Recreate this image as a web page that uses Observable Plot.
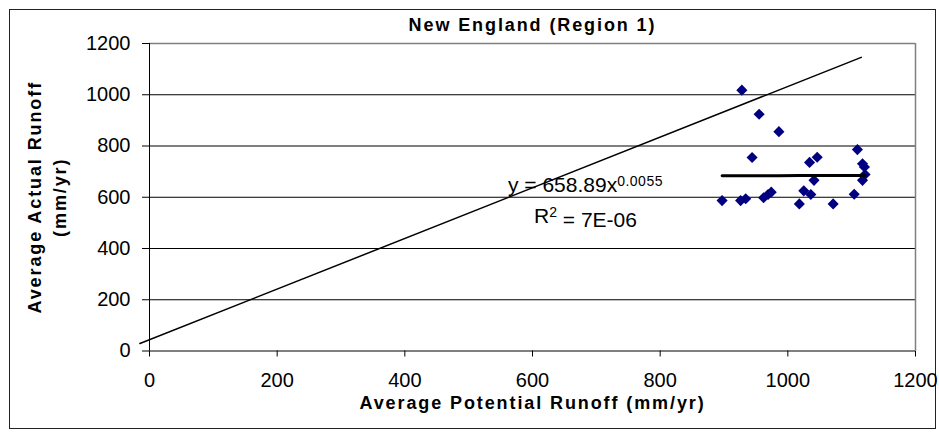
<!DOCTYPE html>
<html>
<head>
<meta charset="utf-8">
<script src="https://cdn.jsdelivr.net/npm/d3@7"></script>
<script src="https://cdn.jsdelivr.net/npm/@observablehq/plot@0.6"></script>
<style>
  html, body { margin: 0; padding: 0; background: #fff; }
  #wrap { position: relative; width: 939px; height: 432px; }
  #border { position: absolute; left: 9px; top: 9px; width: 925px; height: 418px; border: 1px solid #222; pointer-events: none; }
</style>
</head>
<body>
<div id="wrap"><div id="border"></div></div>
<script>
// ---- data ----
const title = "New England (Region 1)";
const xTitle = "Average Potential Runoff (mm/yr)";
const yTitle = "Average Actual Runoff\n(mm/yr)";
const tickValues = [0, 200, 400, 600, 800, 1000, 1200];

// observed points: potential runoff (x) vs actual runoff (y), mm/yr
const potential = [928, 955, 986, 944, 897, 926, 934, 962, 969, 974, 1018, 1025, 1036, 1041, 1034, 1046, 1071, 1104, 1109, 1117, 1120, 1121, 1117];
const actual    = [1018, 924, 856, 755, 587, 587, 594, 598, 611, 620, 574, 625, 611, 666, 736, 756, 574, 612, 786, 731, 718, 689, 666];

// reference diagonal line (two endpoints)
const diagX = [-15, 1115];
const diagY = [29, 1146];

// power trendline coefficients shown in the chart: y = a * x^b
const trendA = 658.89;
const trendB = 0.0055;
const eqText = "y = 658.89x";
const eqSup = "0.0055";
const r2Text = "R";
const r2Sup = "2";
const r2Rest = " = 7E-06";

// ---- derived tables ----
const pts = potential.map((x, i) => ({x, y: actual[i]}));
const diag = diagX.map((x, i) => ({x, y: diagY[i]}));
const xs = potential.slice().sort((a, b) => a - b);
const trend = xs.map(x => ({x, y: trendA * Math.pow(x, trendB)}));
const grid = tickValues.filter(v => v > 0 && v < 1200);

const FONT = "'Liberation Sans', Arial, Helvetica, sans-serif";

const chart = Plot.plot({
  width: 939,
  height: 432,
  marginLeft: 149,
  marginRight: 24,
  marginTop: 43,
  marginBottom: 81.5,
  style: {fontFamily: FONT, fontSize: "20px", color: "#000", background: "transparent"},
  x: {domain: [0, 1200], ticks: tickValues, tickFormat: d => String(d), tickSize: 6, tickPadding: 16, label: null},
  y: {domain: [0, 1200], ticks: tickValues, tickFormat: d => String(d), tickSize: 7, tickPadding: 12, label: null},
  marks: [
    Plot.ruleY(grid, {stroke: "#000", strokeWidth: 1}),
    Plot.ruleY([1200], {stroke: "#808080", strokeWidth: 1.5}),
    Plot.ruleX([1200], {stroke: "#808080", strokeWidth: 1.5}),
    Plot.ruleY([0], {stroke: "#000", strokeWidth: 1}),
    Plot.ruleX([0], {stroke: "#000", strokeWidth: 1}),
    Plot.line(diag, {x: "x", y: "y", stroke: "#000", strokeWidth: 1.5}),
    Plot.dot(pts, {x: "x", y: "y", symbol: "diamond2", r: 5, fill: "#000080", stroke: "none"}),
    Plot.line(trend, {x: "x", y: "y", stroke: "#000", strokeWidth: 3}),
    Plot.text([eqText + eqSup], {x: 683, y: 645, text: d => d, fontSize: 21, textAnchor: "middle", fill: "#000"}),
    Plot.text([r2Text + r2Sup + r2Rest], {x: 683, y: 524, text: d => d, fontSize: 21, textAnchor: "middle", fill: "#000"}),
    Plot.text([title], {frameAnchor: "top", dy: -18, lineAnchor: "middle", textAnchor: "middle", text: d => d, fontSize: 18, fontWeight: "bold", fill: "#000"}),
    Plot.text([xTitle], {frameAnchor: "bottom", dy: 52, lineAnchor: "middle", textAnchor: "middle", text: d => d, fontSize: 18, fontWeight: "bold", fill: "#000"}),
    Plot.text([yTitle], {frameAnchor: "left", dx: -104, rotate: -90, lineAnchor: "middle", textAnchor: "middle", lineHeight: 1.4, text: d => d, fontSize: 18, fontWeight: "bold", fill: "#000"})
  ]
});

const svg = d3.select(chart);
// letter spacing of the bold titles, like the reference
svg.selectAll("text").filter(function() {
  const t = this.textContent;
  return t === title || t === xTitle || t.startsWith("Average Actual");
}).style("letter-spacing", "1.9px");

// superscripts in the trendline equation
svg.selectAll("text").filter(function() { return this.textContent === eqText + eqSup; })
  .each(function() {
    const el = d3.select(this);
    el.text(null);
    el.append("tspan").text(eqText);
    el.append("tspan").attr("dy", "-0.45em").attr("font-size", "14px").style("letter-spacing", "0.5px").text(eqSup);
  });
svg.selectAll("text").filter(function() { return this.textContent === r2Text + r2Sup + r2Rest; })
  .each(function() {
    const el = d3.select(this);
    el.text(null);
    el.append("tspan").text(r2Text);
    el.append("tspan").attr("dy", "-0.45em").attr("font-size", "14px").text(r2Sup);
    el.append("tspan").attr("dy", "0.45em").text(r2Rest);
  });

document.getElementById("wrap").appendChild(chart);
chart.style.position = "absolute";
chart.style.left = "0";
chart.style.top = "0";
</script>
</body>
</html>
